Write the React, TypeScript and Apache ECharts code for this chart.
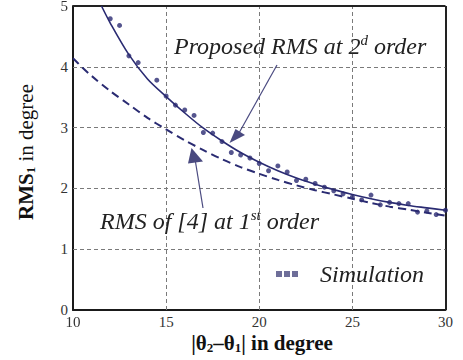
import React, { useEffect, useRef } from "react";
import * as echarts from "echarts";

const xTicks = [10, 15, 20, 25, 30];
const yTicks = [0, 1, 2, 3, 4, 5];

const simX = [12, 12.5, 13, 13.5, 14.5, 15, 15.5, 16, 16.5, 17, 17.5, 18, 18.5, 19, 19.5, 20, 20.5, 21, 21.5, 22, 22.5, 23, 23.5, 24, 24.5, 25, 25.5, 26, 26.5, 27, 27.5, 28, 28.5, 29, 29.5, 30];
const simY = [4.79, 4.68, 4.18, 4.07, 3.78, 3.52, 3.37, 3.29, 3.2, 2.92, 2.91, 2.77, 2.59, 2.55, 2.5, 2.41, 2.29, 2.37, 2.27, 2.13, 2.15, 2.08, 2.02, 1.96, 1.91, 1.86, 1.81, 1.89, 1.73, 1.77, 1.75, 1.75, 1.61, 1.63, 1.57, 1.64];

const propX = [11.53, 12, 13, 14, 15, 16, 17, 18, 19, 20, 21, 22, 23, 24, 25, 26, 27, 28, 29, 30];
const propY = [5.0, 4.72, 4.2, 3.8, 3.51, 3.24, 2.99, 2.78, 2.59, 2.43, 2.29, 2.17, 2.07, 1.98, 1.9, 1.83, 1.77, 1.72, 1.68, 1.64];

const refX = [10, 10.5, 11, 12, 13, 14, 15, 16, 17, 18, 19, 20, 21, 22, 23, 24, 25, 26, 27, 28, 29, 30];
const refY = [4.14, 3.99, 3.85, 3.6, 3.38, 3.16, 2.97, 2.79, 2.63, 2.48, 2.35, 2.24, 2.14, 2.05, 1.97, 1.9, 1.83, 1.76, 1.7, 1.65, 1.6, 1.55];

const NAVY = "#2a2b72";
const ARROW = "#4a4a80";
const SERIF = "Liberation Serif";

// main chart box on the page
const BOX = { left: 48, top: -14, width: 408, height: 344 };
const px = (x: number, y: number) => [x - BOX.left, y - BOX.top];

export default function App() {
  const mainRef = useRef<HTMLDivElement>(null);
  const titleRef = useRef<HTMLDivElement>(null);
  useEffect(() => {
    if (!mainRef.current || !titleRef.current) return;
    const chart = echarts.init(mainRef.current, null, { renderer: "svg" });
    const titles = echarts.init(titleRef.current, null, { renderer: "svg" });
    const zip = (xs: number[], ys: number[]) => xs.map((x, i) => [x, ys[i]]);
    const label = { fontFamily: SERIF, fontSize: 15, color: "#333" };
    const supStyle = (size: number) => ({
      fontFamily: SERIF,
      fontStyle: "italic",
      fontSize: size,
      fill: "#222",
      verticalAlign: "top",
      padding: [0, 0, 12, 0],
    });
    const xMax = xTicks[xTicks.length - 1];
    const yMax = yTicks[yTicks.length - 1];
    const dashed = { color: "#7a7a7a", type: [4, 3], width: 1 };
    const frame = { color: "#222", type: "solid", width: 2 };
    const gridLines = [
      ...xTicks.slice(1).map((v) => ({ xAxis: v, lineStyle: v === xMax ? frame : dashed })),
      ...yTicks.slice(1).map((v) => ({ yAxis: v, lineStyle: v === yMax ? frame : dashed })),
    ];
    const p1 = px(174, 46);
    const p2 = px(100, 221);
    chart.setOption({
      animation: false,
      grid: { left: 25, right: 8, top: 20, bottom: 20 },
      xAxis: {
        type: "value",
        min: xTicks[0],
        max: xMax,
        interval: 5,
        axisLine: { show: true, lineStyle: { color: "#1a1a1a", width: 2 } },
        axisTick: { show: false },
        axisLabel: { ...label, margin: 4 },
        splitLine: { show: false },
      },
      yAxis: {
        type: "value",
        min: yTicks[0],
        max: yMax,
        interval: 1,
        axisLine: { show: true, lineStyle: { color: "#1a1a1a", width: 2 } },
        axisTick: { show: false },
        axisLabel: { ...label, margin: 5 },
        splitLine: { show: false },
      },
      legend: {
        left: 276 - BOX.left,
        top: 262 - BOX.top,
        padding: 0,
        itemWidth: 22,
        itemHeight: 6,
        data: [
          {
            name: "Simulation",
            icon: "path://M0,0h6v6h-6z M8,0h6v6h-6z M16,0h6v6h-6z",
            itemStyle: { color: ARROW },
          },
        ],
        textStyle: {
          fontFamily: SERIF,
          fontStyle: "italic",
          fontSize: 24,
          color: "#222",
          padding: [0, 0, 0, 17],
        },
      },
      series: [
        {
          name: "Proposed",
          type: "line",
          data: zip(propX, propY),
          smooth: 0.3,
          showSymbol: false,
          lineStyle: { color: NAVY, width: 1.6 },
          z: 3,
          markLine: {
            silent: true,
            z: 1,
            symbol: ["none", "none"],
            label: { show: false },
            emphasis: { disabled: true },
            data: gridLines,
          },
        },
        {
          name: "Reference",
          type: "line",
          data: zip(refX, refY),
          smooth: 0.3,
          showSymbol: false,
          lineStyle: { color: NAVY, width: 2, type: [8, 5] },
          z: 3,
        },
        {
          name: "Simulation",
          type: "scatter",
          data: zip(simX, simY),
          symbolSize: 5,
          itemStyle: { color: NAVY },
          z: 4,
        },
      ],
      graphic: [
        {
          type: "text",
          x: p1[0],
          y: p1[1],
          style: {
            text: "{t|Proposed RMS at 2}{u|d}{t| order}",
            verticalAlign: "middle",
            rich: {
              t: { fontFamily: SERIF, fontStyle: "italic", fontSize: 24, fill: "#222" },
              u: supStyle(15),
            },
          },
          z: 10,
        },
        {
          type: "text",
          x: p2[0],
          y: p2[1],
          style: {
            text: "{t|RMS of [4] at 1}{u|st}{t| order}",
            verticalAlign: "middle",
            rich: {
              t: { fontFamily: SERIF, fontStyle: "italic", fontSize: 24, fill: "#222" },
              u: supStyle(15),
            },
          },
          z: 10,
        },
        {
          type: "line",
          shape: { x1: px(277, 65)[0], y1: px(277, 65)[1], x2: px(239, 133)[0], y2: px(239, 133)[1] },
          style: { stroke: ARROW, lineWidth: 1.2 },
          z: 10,
        },
        {
          type: "polygon",
          shape: { points: [px(229.5, 143), px(235.5, 129), px(245, 135)] },
          style: { fill: ARROW },
          z: 10,
        },
        {
          type: "line",
          shape: { x1: px(203, 208)[0], y1: px(203, 208)[1], x2: px(195.5, 162)[0], y2: px(195.5, 162)[1] },
          style: { stroke: ARROW, lineWidth: 1.2 },
          z: 10,
        },
        {
          type: "polygon",
          shape: { points: [px(191.5, 148), px(188, 163.5), px(203, 161.5)] },
          style: { fill: ARROW },
          z: 10,
        },
      ],
    });
    titles.setOption({
      animation: false,
      graphic: [
        {
          type: "text",
          x: 262,
          y: 343,
          style: {
            text: "{b||θ}{s|2}{b|–θ}{s|1}{b|| in degree}",
            align: "center",
            verticalAlign: "middle",
            rich: {
              b: { fontFamily: SERIF, fontWeight: "bold", fontSize: 21, fill: "#111" },
              s: { fontFamily: SERIF, fontWeight: "bold", fontSize: 13, fill: "#111", verticalAlign: "bottom", padding: [9, 0, 0, 0] },
            },
          },
        },
        {
          type: "text",
          x: 26,
          y: 152,
          rotation: Math.PI / 2,
          style: {
            text: "{b|RMS}{s|1}{n| in degree}",
            align: "center",
            verticalAlign: "middle",
            rich: {
              b: { fontFamily: SERIF, fontWeight: "bold", fontSize: 21, fill: "#111" },
              s: { fontFamily: SERIF, fontWeight: "bold", fontSize: 13, fill: "#111", verticalAlign: "bottom", padding: [9, 0, 0, 0] },
              n: { fontFamily: SERIF, fontSize: 21, fill: "#111" },
            },
          },
        },
      ],
    });
    return () => {
      chart.dispose();
      titles.dispose();
    };
  }, []);
  return (
    <div style={{ position: "fixed", left: 0, top: 0, width: 463, height: 360, background: "#ffffff" }}>
      <div ref={titleRef} style={{ position: "absolute", left: 0, top: 0, width: 463, height: 360 }} />
      <div
        ref={mainRef}
        style={{ position: "absolute", left: BOX.left, top: BOX.top, width: BOX.width, height: BOX.height }}
      />
    </div>
  );
}
